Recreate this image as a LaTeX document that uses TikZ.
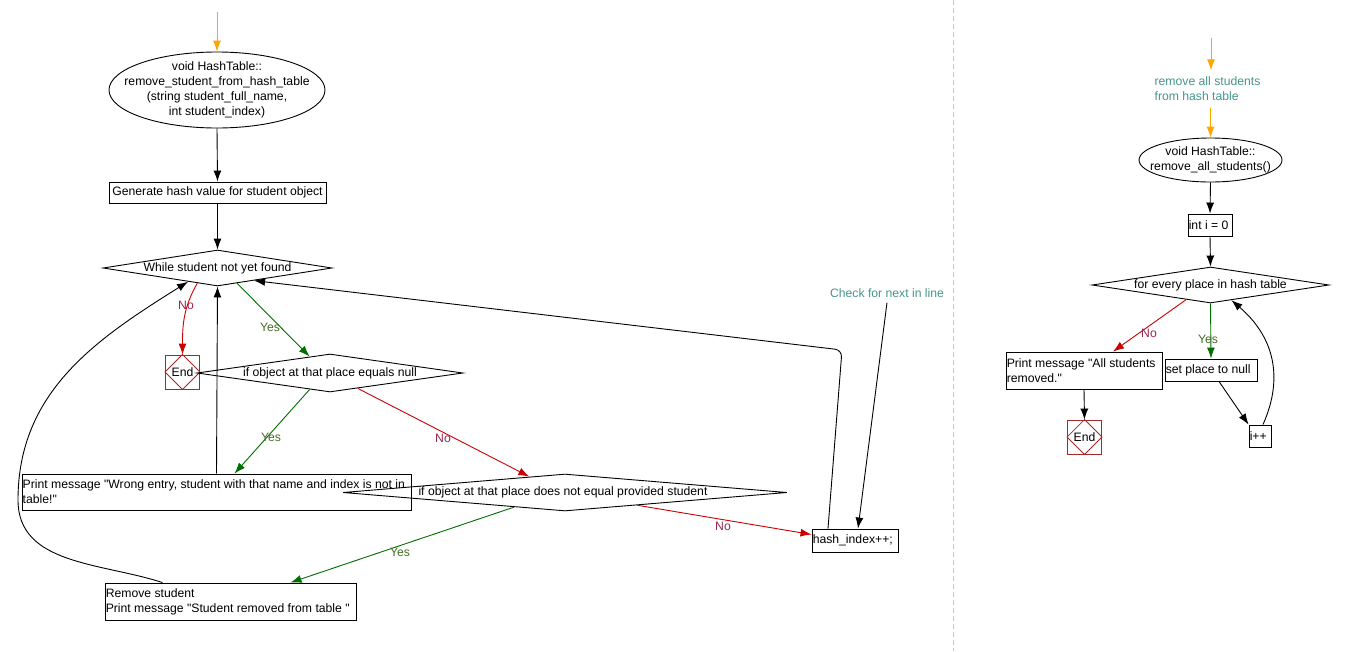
\documentclass[tikz,border=0pt]{standalone}
\usepackage{fontspec}
\setmainfont{Liberation Sans}[Ligatures=TeXOff]
\usetikzlibrary{shapes.geometric,arrows.meta,calc}
\definecolor{orangec}{RGB}{255,165,0}
\definecolor{greenc}{RGB}{0,110,0}
\definecolor{redc}{RGB}{204,0,0}
\definecolor{yesc}{RGB}{70,110,40}
\definecolor{noc}{RGB}{150,40,80}
\definecolor{tealc}{RGB}{70,150,140}
\definecolor{endc}{RGB}{165,40,40}
\definecolor{sepc}{RGB}{200,200,200}
\begin{document}
\begin{tikzpicture}[x=1pt,y=1pt,
  font=\fontsize{12.2}{15}\selectfont,
  every node/.style={inner sep=0pt},
  box/.style={draw=black, line width=0.9pt, rectangle},
  dia/.style={draw=black, line width=0.9pt, diamond},
  ell/.style={draw=black, line width=0.9pt, ellipse},
  txt/.style={align=center, text=black},
  ltxt/.style={align=left, text=black, anchor=west},
  endbox/.style={draw=endc, line width=0.9pt, rectangle, minimum width=34, minimum height=34},
  arr/.style={line width=0.9pt, -{Latex[length=11pt,width=8pt]}},
  oarr/.style={arr, draw=orangec},
  garr/.style={arr, draw=greenc},
  rarr/.style={arr, draw=redc},
  yeslbl/.style={text=yesc},
  nolbl/.style={text=noc},
  note/.style={text=tealc, align=left}
]
\useasboundingbox (0,0) rectangle (1352,-651);
\fill[white] (0,0) rectangle (1352,-651);
\draw[sepc, line width=1pt, dash pattern=on 5pt off 3pt] (953,0) -- (953,-651);

% ---------- left chart ----------
\coordinate (s1) at (217,-12);
\node[ell, minimum width=216, minimum height=76] (e1) at (217,-90) {};
\node[txt] (e1t) at (e1) {void HashTable::\\remove\_student\_from\_hash\_table\\(string student\_full\_name,\\int student\_index)};
\node[box, minimum width=217, minimum height=21] (b1) at (217.5,-192.5) {Generate hash value for student object};
\node[dia, minimum width=229, minimum height=36] (dW) at (217.5,-268) {};
\node[txt] (dWt) at (dW) {While student not yet found};
\node[endbox] (end1) at (182.5,-372) {};
\draw[endc, line width=0.8pt] (end1.north) -- (end1.east) -- (end1.south) -- (end1.west) -- cycle;
\node[txt] (end1t) at (end1) {End};
\node[box, minimum width=389, minimum height=36] (pr) at (216.5,-492) {};
\node[ltxt] (prt) at ([xshift=1pt]pr.west) {Print message "Wrong entry, student with that name and index is not in\\table!"};
\node[dia, minimum width=266, minimum height=38] (dN) at (330,-373) {};
\node[txt] (dNt) at (dN) {if object at that place equals null};
\node[dia, minimum width=444, minimum height=37] (dD) at (565,-492.5) {};
\node[txt] (dDt) at ([xshift=-2pt]dD.center) {if object at that place does not equal provided student};
\node[box, minimum width=251, minimum height=37] (rm) at (230.5,-601.5) {};
\node[ltxt] (rmt) at ([xshift=1pt]rm.west) {Remove student\\Print message "Student removed from table "};
\node[box, minimum width=86, minimum height=23] (hs) at (855,-540.5) {};
\node[ltxt] (hst) at ([xshift=1pt]hs.west) {hash\_index++;};
\node[note] (chk) at (887,-293) {Check for next in line};
\coordinate (c1) at (842,-350);

\draw[oarr] (s1) -- (e1.north);
\draw[arr] (e1.south) -- (b1.north);
\draw[arr] (b1.south) -- (dW.north);
\draw[rarr] (dW.217) to[out=-120,in=90] (end1.north);
\draw[garr] (dW.322) -- (dN.141);
\draw[arr] (pr.north) -- (dW.south);
\draw[garr] (dN.219) -- ([xshift=18pt]pr.north);
\draw[rarr] (dN.331) -- (dD.156);
\draw[garr] (dD.196) -- ([xshift=60pt]rm.north);
\draw[rarr] (dD.350) -- ([yshift=6pt]hs.west);
\draw[arr] ([xshift=-68pt]rm.north) to[out=162,in=-90] (18,-500) to[out=90,in=212] (dW.205);
\draw[arr, rounded corners=7pt] ([xshift=-27pt]hs.north) -- (c1) -- (dW.341);
\draw[arr] ([yshift=-5pt]chk.south) -- ([xshift=3pt]hs.north);

\node[yeslbl] (y1) at (270,-327) {Yes};
\node[nolbl] (n1) at (186,-305) {No};
\node[yeslbl] (y2) at (271,-437) {Yes};
\node[nolbl] (n2) at (443,-438) {No};
\node[yeslbl] (y3) at (400,-552) {Yes};
\node[nolbl] (n3) at (723,-526) {No};

% ---------- right chart ----------
\coordinate (s2) at (1211,-38);
\node[note] (rt) at (1207.5,-88.5) {remove all students\\from hash table};
\node[ell, minimum width=143, minimum height=44] (e2) at (1210.5,-160) {};
\node[txt] (e2t) at (e2) {void HashTable::\\remove\_all\_students()};
\node[box, minimum width=44, minimum height=22] (i0) at (1210,-225) {};
\node[ltxt] (i0t) at ([xshift=1pt]i0.west) {int i = 0};
\node[dia, minimum width=237, minimum height=36] (dF) at (1210.5,-285) {};
\node[txt] (dFt) at (dF) {for every place in hash table};
\node[box, minimum width=156, minimum height=37] (pm) at (1084,-370.5) {};
\node[ltxt] (pmt) at ([xshift=1pt]pm.west) {Print message "All students\\removed."};
\node[box, minimum width=92, minimum height=22] (sp) at (1211,-370) {};
\node[ltxt] (spt) at ([xshift=1pt]sp.west) {set place to null};
\node[endbox] (end2) at (1084.5,-437) {};
\draw[endc, line width=0.8pt] (end2.north) -- (end2.east) -- (end2.south) -- (end2.west) -- cycle;
\node[txt] (end2t) at (end2) {End};
\node[box, minimum width=22, minimum height=22] (ip) at (1260,-436) {};
\node[ltxt] (ipt) at ([xshift=1pt]ip.west) {i++};

\draw[oarr] (s2) -- ([yshift=6pt]s2 |- rt.north);
\draw[oarr] ([yshift=-7pt]rt.south -| e2.north) -- (e2.north);
\draw[arr] (e2.south) -- (i0.north);
\draw[arr] (i0.south) -- (dF.north);
\draw[rarr] (dF.211) -- ([xshift=29pt]pm.north);
\draw[garr] (dF.south) -- (sp.north);
\draw[arr] (pm.south) -- (end2.north);
\draw[arr] ([xshift=8pt]sp.south) -- (ip.north west);
\draw[arr] ([xshift=3pt]ip.north) .. controls (1285,-375) and (1272,-335) .. (dF.324);

\node[nolbl] (n4) at (1149,-333) {No};
\node[yeslbl] (y4) at (1208,-339) {Yes};
\end{tikzpicture}
\end{document}
